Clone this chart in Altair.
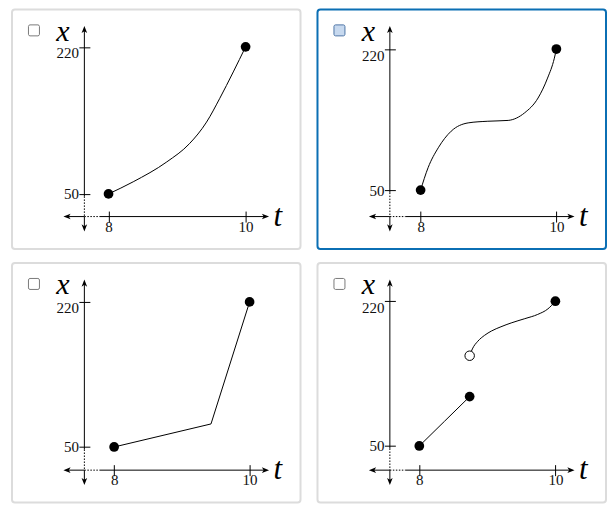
import altair as alt
import pandas as pd

# ---------------- values ----------------
T_TICKS = [8, 10]
X_TICKS = [50, 220]

# panel A (top-left): smooth increasing curve
A_T = [8.0, 8.36, 8.85, 9.18, 9.43, 9.62, 9.82, 10.0]
A_X = [50, 64, 87, 108, 133, 160, 191, 220]
A_DOT_T = [8, 10]
A_DOT_X = [50, 220]

# panel B (top-right, selected): S-shaped curve with a plateau
B_T = [8.0, 8.11, 8.26, 8.45, 8.70, 8.99, 9.29, 9.53, 9.73, 9.87, 9.97, 10.0]
B_X = [50, 77, 101, 121, 131, 133, 134, 143, 161, 185, 209, 220]
B_DOT_T = [8, 10]
B_DOT_X = [50, 220]

# panel C (bottom-left): two straight pieces
C_T = [8.0, 9.43, 10.0]
C_X = [50, 77, 220]
C_DOT_T = [8, 10]
C_DOT_X = [50, 220]

# panel D (bottom-right): jump discontinuity
D_LOW_T = [8.0, 8.37, 8.74]
D_LOW_X = [50, 79, 108]
D_HIGH_T = [8.74, 8.78, 8.86, 8.96, 9.06, 9.20, 9.35, 9.55, 9.74, 9.89, 10.0]
D_HIGH_X = [156, 164, 173, 180, 185, 190, 194.5, 199.5, 204.5, 211, 220]
D_DOT_T = [8, 8.74, 10]
D_DOT_X = [50, 108, 220]
D_OPEN_T = [8.74]
D_OPEN_X = [156]

# ---------------- layout ----------------
W, H = 289, 240
Y_AXIS_PX = 72.5      # where the vertical arrow sits
X_AXIS_PX = 207.5     # where the horizontal arrow sits
V_TOP, V_BOTTOM = 16.5, 222.5
H_LEFT, H_RIGHT = 51.5, 257.5
DOT_H_END = 88

# pixel calibration of tick positions inside each panel
CAL = {
    "A": dict(t8=96.7, t10=234.0, x50=184.8, x220=37.5),
    "B": dict(t8=103.3, t10=239.3, x50=181.0, x220=39.7),
    "C": dict(t8=102.3, t10=238.0, x50=184.3, x220=39.0),
    "D": dict(t8=102.0, t10=238.3, x50=183.3, x220=38.3),
}

SERIF = "Liberation Serif"
ARROW = "M0,-1L0.7,0.8L0,0.35L-0.7,0.8Z"


def blank():
    return alt.Chart(alt.Data(values=[{"k": 0}]))


def seg(x1, y1, x2, y2, dash=None):
    kw = dict(color="black", strokeWidth=1)
    if dash:
        kw["strokeDash"] = dash
    return blank().mark_rule(**kw).encode(
        x=alt.value(x1), y=alt.value(y1), x2=alt.value(x2), y2=alt.value(y2)
    )


def arrow(x, y, angle):
    return blank().mark_point(
        shape=ARROW, filled=True, color="black", size=64, angle=angle,
        opacity=1, strokeWidth=0
    ).encode(x=alt.value(x), y=alt.value(y))


def encodings(cal):
    kt = (cal["t10"] - cal["t8"]) / 2
    tdom = [8 - cal["t8"] / kt, 8 + (W - cal["t8"]) / kt]
    kx = (cal["x50"] - cal["x220"]) / 170
    xdom = [50 - (H - cal["x50"]) / kx, 220 + cal["x220"] / kx]
    x_axis = alt.Axis(
        values=T_TICKS, domain=False, grid=False, ticks=True, tickSize=11,
        tickColor="black", tickWidth=1, labelFont=SERIF, labelFontSize=15,
        labelColor="#111", labelBaseline="top", labelPadding=-3,
        labelFlush=False, labelOverlap=False,
        offset=-(H - (X_AXIS_PX - 5.5)), title=None,
    )
    y_axis = alt.Axis(
        values=X_TICKS, domain=False, grid=False, ticks=True, tickSize=11,
        tickColor="black", tickWidth=1, labelFont=SERIF, labelFontSize=15,
        labelColor="#111", labelBaseline="middle", labelAlign="right",
        labelPadding=0.5, labelFlush=False, labelOverlap=False,
        labelOffset={"condition": {"test": "datum.value == 220", "value": 6}, "value": 0},
        offset=-(Y_AXIS_PX + 5.5), title=None,
    )
    xe = alt.X("t:Q", scale=alt.Scale(domain=tdom, nice=False, zero=False), axis=x_axis)
    ye = alt.Y("x:Q", scale=alt.Scale(domain=xdom, nice=False, zero=False), axis=y_axis)
    return xe, ye


def panel(key, lines, dots, opens, selected=False):
    cal = CAL[key]
    xe, ye = encodings(cal)
    layers = []
    dot_v_start = cal["x50"] + 2.5
    layers += [
        seg(Y_AXIS_PX, V_TOP + 4, Y_AXIS_PX, dot_v_start),
        seg(Y_AXIS_PX, dot_v_start, Y_AXIS_PX, X_AXIS_PX, dash=[1.5, 1.5]),
        seg(Y_AXIS_PX, X_AXIS_PX, Y_AXIS_PX, V_BOTTOM - 4),
        seg(H_LEFT + 4, X_AXIS_PX, Y_AXIS_PX, X_AXIS_PX),
        seg(Y_AXIS_PX, X_AXIS_PX, DOT_H_END, X_AXIS_PX, dash=[1.5, 1.5]),
        seg(DOT_H_END, X_AXIS_PX, H_RIGHT - 4, X_AXIS_PX),
        arrow(Y_AXIS_PX, V_TOP + 4, 0),
        arrow(Y_AXIS_PX, V_BOTTOM - 4, 180),
        arrow(H_LEFT + 4, X_AXIS_PX, 270),
        arrow(H_RIGHT - 4, X_AXIS_PX, 90),
    ]
    layers.append(
        blank().mark_rect(
            fill="#c7d9ef" if selected else "white",
            stroke="#4d74a6" if selected else "#7a7a7a",
            strokeWidth=1, cornerRadius=1.5,
        ).encode(x=alt.value(16.5), x2=alt.value(27.5), y=alt.value(15.5), y2=alt.value(26.5))
    )
    layers.append(
        blank().mark_text(text="x", font=SERIF, fontStyle="italic", fontSize=30,
                          align="center", baseline="alphabetic", color="black")
        .encode(x=alt.value(51), y=alt.value(31.5))
    )
    layers.append(
        blank().mark_text(text="t", font=SERIF, fontStyle="italic", fontSize=31,
                          align="left", baseline="alphabetic", color="black")
        .encode(x=alt.value(262), y=alt.value(216.5))
    )
    for ts, xs, interp in lines:
        df = pd.DataFrame({"t": ts, "x": xs})
        layers.append(
            alt.Chart(df).mark_line(color="black", strokeWidth=1, interpolate=interp)
            .encode(x=xe, y=ye)
        )
    for ts, xs in dots:
        df = pd.DataFrame({"t": ts, "x": xs})
        layers.append(
            alt.Chart(df).mark_circle(size=95, color="black", opacity=1).encode(x=xe, y=ye)
        )
    for ts, xs in opens:
        df = pd.DataFrame({"t": ts, "x": xs})
        layers.append(
            alt.Chart(df).mark_circle(size=90, fill="white", stroke="black",
                                      strokeWidth=1, opacity=1).encode(x=xe, y=ye)
        )
    props = dict(width=W, height=H)
    if selected:
        props["view"] = alt.ViewBackground(stroke="#0b6fb4", strokeWidth=2, cornerRadius=3)
    return alt.layer(*layers).properties(**props)


pA = panel("A", [(A_T, A_X, "monotone")], [(A_DOT_T, A_DOT_X)], [])
pB = panel("B", [(B_T, B_X, "monotone")], [(B_DOT_T, B_DOT_X)], [], selected=True)
pC = panel("C", [(C_T, C_X, "linear")], [(C_DOT_T, C_DOT_X)], [])
pD = panel("D", [(D_LOW_T, D_LOW_X, "linear"), (D_HIGH_T, D_HIGH_X, "monotone")],
           [(D_DOT_T, D_DOT_X)], [(D_OPEN_T, D_OPEN_X)])

chart = alt.vconcat(
    alt.hconcat(pA, pB, spacing=15),
    alt.hconcat(pC, pD, spacing=15),
    spacing=12,
).properties(
    padding={"left": 3, "top": 0, "right": 0, "bottom": 0},
).configure_view(
    stroke="#dcdcdc", strokeWidth=2, cornerRadius=3
)

chart.save("out.html", embed_options={"renderer": "svg", "actions": False})
